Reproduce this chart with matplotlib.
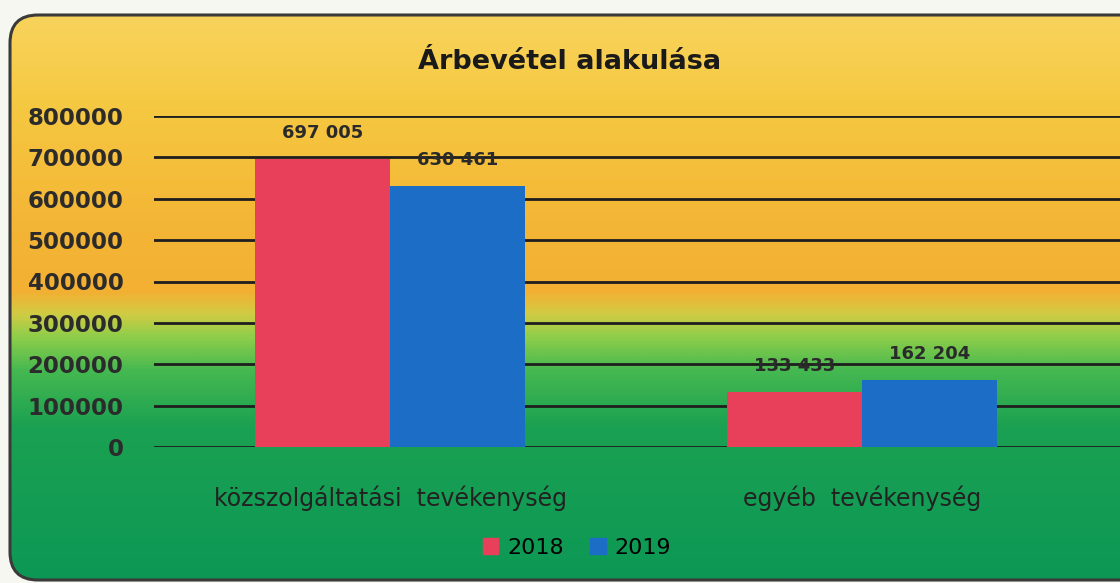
import numpy as np
import matplotlib
matplotlib.use('Agg')
import matplotlib.pyplot as plt
from matplotlib.patches import FancyBboxPatch, Patch
from matplotlib.colors import LinearSegmentedColormap

categories = ['közszolgáltatási  tevékenység', 'egyéb  tevékenység']
years = ['2018', '2019']
values_2018 = [697005, 133433]
values_2019 = [630461, 162204]
labels_2018 = ['697 005', '133 433']
labels_2019 = ['630 461', '162 204']
yticks = [0, 100000, 200000, 300000, 400000, 500000, 600000, 700000, 800000]

W, H = 1120, 583
fig = plt.figure(figsize=(W / 100, H / 100), dpi=100)
fig.patch.set_facecolor('#f7f7f2')

# background box with gradient (yellow -> orange -> green)
bg = fig.add_axes([0, 0, 1, 1], zorder=-5)
bg.set_xlim(0, W)
bg.set_ylim(H, 0)
bg.axis('off')
stops = [(0.0, '#f8d35c'), (0.15, '#f6c942'), (0.36, '#f4b636'),
         (0.49, '#f3b033'), (0.53, '#d0cc44'), (0.57, '#8fce4a'),
         (0.63, '#45b850'), (0.73, '#1ba152'), (1.0, '#0c9855')]
cmap = LinearSegmentedColormap.from_list('bg', stops)
grad = np.linspace(0, 1, 400).reshape(-1, 1)
img = bg.imshow(grad, cmap=cmap, aspect='auto', extent=[10, 1180, 580, 15])
box = FancyBboxPatch((10, 15), 1170, 565, boxstyle='round,pad=0,rounding_size=28',
                     transform=bg.transData, facecolor='none', edgecolor='#3a3a3a', lw=2.2)
bg.add_patch(box)
img.set_clip_path(box)

ax = fig.add_axes([154 / W, 1 - 447 / H, (W - 154) / W, (447 - 116) / H])
ax.patch.set_alpha(0)
x = np.arange(len(categories))
w = 0.286
ax.bar(x - w / 2, values_2018, w, color='#e8405b', zorder=3, label=years[0])
ax.bar(x + w / 2, values_2019, w, color='#1c6dc6', zorder=3, label=years[1])

for xi, v, t in zip(x - w / 2, values_2018, labels_2018):
    ax.annotate(t, (xi, v), xytext=(0, 12), textcoords='offset points', ha='center',
                va='bottom', fontsize=13, fontweight='bold', color='#2a2a2a', zorder=4)
for xi, v, t in zip(x + w / 2, values_2019, labels_2019):
    ax.annotate(t, (xi, v), xytext=(0, 12), textcoords='offset points', ha='center',
                va='bottom', fontsize=13, fontweight='bold', color='#2a2a2a', zorder=4)

ax.set_ylim(0, 800000)
ax.set_xlim(-0.5, 1.5 + 22 / 472)
ax.set_yticks(yticks)
ax.set_yticklabels([str(t) for t in yticks], fontsize=16.5, fontweight='bold', color='#2b2b2b')
ax.set_xticks(x)
ax.set_xticklabels(categories, fontsize=17, color='#222222')
ax.tick_params(axis='y', length=0, pad=22)
ax.tick_params(axis='x', length=0, pad=28)
for t in yticks:
    ax.axhline(t, color='#1e1e1e', lw=2, zorder=1)
for s in ax.spines.values():
    s.set_visible(False)

fig.text(570 / W, 1 - 62 / H, 'Árbevétel alakulása', ha='center', va='center',
         fontsize=19.5, fontweight='bold', color='#1a1a1a')

handles = [Patch(color='#e8405b'), Patch(color='#1c6dc6')]
fig.legend(handles, years, loc='center', bbox_to_anchor=(577 / W, 1 - 548 / H), ncol=2,
           frameon=False, fontsize=16, handlelength=0.7, handleheight=0.7,
           handletextpad=0.4, columnspacing=1.2)

fig.savefig('out.png', dpi=100, facecolor=fig.get_facecolor())
